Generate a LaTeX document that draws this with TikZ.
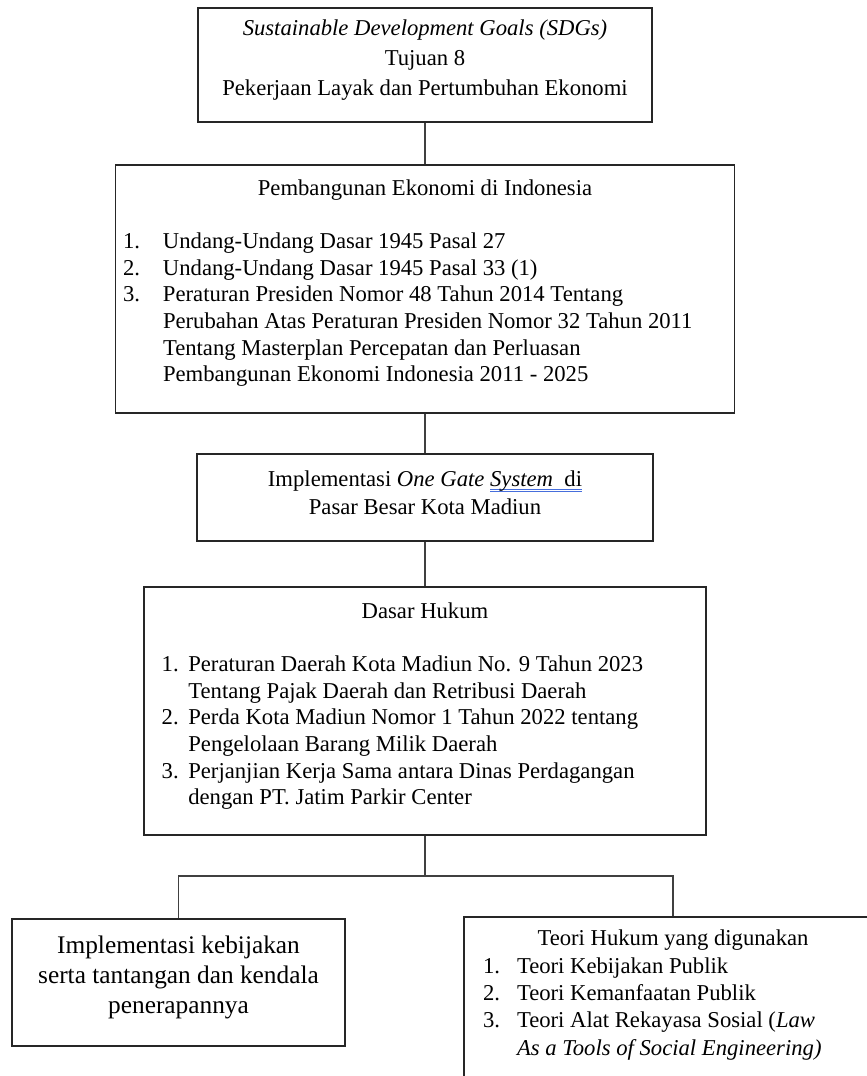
\documentclass[tikz,border=0pt]{standalone}
\usepackage{fontspec}
\setmainfont{Liberation Serif}
\usepackage{tikz}
\usetikzlibrary{positioning}

\definecolor{ulblue}{RGB}{70,110,220}
\newcommand{\gramul}[1]{\leavevmode\setbox0\hbox{#1}%
  \rlap{\color{ulblue}\rule[-2.4pt]{\wd0}{0.5pt}}%
  \rlap{\color{ulblue}\rule[-3.8pt]{\wd0}{0.5pt}}\box0}

\tikzset{
  frame/.style={draw=black!85, line width=1pt, inner sep=0pt},
  link/.style={draw=black!75, line width=1pt},
  txt/.style={inner sep=0pt, font=\fontsize{17}{20}\selectfont},
}

\begin{document}
\begin{tikzpicture}[x=0.75pt, y=-0.75pt]
\useasboundingbox (0,0) rectangle (867,1076);
\clip (0,0) rectangle (867,1076);

% boxes
\node[frame, minimum width=340.5pt, minimum height=85.5pt] (sdg) at (425,65) {};
\node[frame, minimum width=464.25pt, minimum height=186pt] (pemb) at (425,289) {};
\node[frame, minimum width=342pt, minimum height=65.25pt] (ogs) at (425,497.5) {};
\node[frame, minimum width=421.5pt, minimum height=186pt] (dasar) at (425,711) {};
\node[frame, minimum width=249.75pt, minimum height=95.25pt] (impl) at (178.5,982.5) {};
\node[frame, minimum width=313.5pt, minimum height=150pt] (teori) at (673,1017) {};

% texts
\node[txt, font=\fontsize{17}{22.5}\selectfont, below=5.25pt of sdg.north] (sdgtxt) {%
  \begin{tabular}[t]{@{}c@{}}
  \textit{Sustainable Development Goals (SDGs)}\\
  Tujuan 8\\
  Pekerjaan Layak dan Pertumbuhan Ekonomi
  \end{tabular}};

\node[txt, below=9pt of pemb.north] (pembtxt) {%
  \begin{tabular}[t]{@{}p{30pt}@{}l@{}}
  \multicolumn{2}{@{}c@{}}{\makebox[453pt]{Pembangunan Ekonomi di Indonesia}}\\[20pt]
  1. & Undang-Undang Dasar 1945 Pasal 27\\
  2. & Undang-Undang Dasar 1945 Pasal 33 (1)\\
  3. & Peraturan Presiden Nomor 48 Tahun 2014 Tentang\\
     & Perubahan Atas Peraturan Presiden Nomor 32 Tahun 2011\\
     & Tentang Masterplan Percepatan dan Perluasan\\
     & Pembangunan Ekonomi Indonesia 2011 - 2025
  \end{tabular}};

\node[txt, font=\fontsize{17}{21}\selectfont, below=10pt of ogs.north] (ogstxt) {%
  \begin{tabular}[t]{@{}c@{}}
  Implementasi \textit{One Gate} \gramul{\textit{System}\ \ di}\\
  Pasar Besar Kota Madiun
  \end{tabular}};

\node[txt, below=9.75pt of dasar.north] (dasartxt) {%
  \begin{tabular}[t]{@{}p{20pt}@{}l@{}}
  \multicolumn{2}{@{}c@{}}{\makebox[395pt]{Dasar Hukum}}\\[20pt]
  1. & Peraturan Daerah Kota Madiun No. 9 Tahun 2023\\
     & Tentang Pajak Daerah dan Retribusi Daerah\\
  2. & Perda Kota Madiun Nomor 1 Tahun 2022 tentang\\
     & Pengelolaan Barang Milik Daerah\\
  3. & Perjanjian Kerja Sama antara Dinas Perdagangan\\
     & dengan PT. Jatim Parkir Center
  \end{tabular}};

\node[txt, font=\fontsize{19}{22.5}\selectfont, below=10.5pt of impl.north] (impltxt) {%
  \begin{tabular}[t]{@{}c@{}}
  Implementasi kebijakan\\
  serta tantangan dan kendala\\
  penerapannya
  \end{tabular}};

\node[txt, font=\fontsize{17}{20.5}\selectfont, below=7.5pt of teori.north] (teoritxt) {%
  \begin{tabular}[t]{@{}p{25.5pt}@{}l@{}}
  \multicolumn{2}{@{}c@{}}{\makebox[285pt]{Teori Hukum yang digunakan}}\\
  1. & Teori Kebijakan Publik\\
  2. & Teori Kemanfaatan Publik\\
  3. & Teori Alat Rekayasa Sosial (\textit{Law}\\
     & \textit{As a Tools of Social Engineering)}
  \end{tabular}};

% connectors
\coordinate (split) at (425,876);
\draw[link] (sdg.south) -- (pemb.north);
\draw[link] (pemb.south) -- (ogs.north);
\draw[link] (ogs.south) -- (dasar.north);
\draw[link] (dasar.south) -- (split);
\draw[link] (split) -| (impl.north);
\draw[link] (split) -| (teori.north);
\end{tikzpicture}
\end{document}
